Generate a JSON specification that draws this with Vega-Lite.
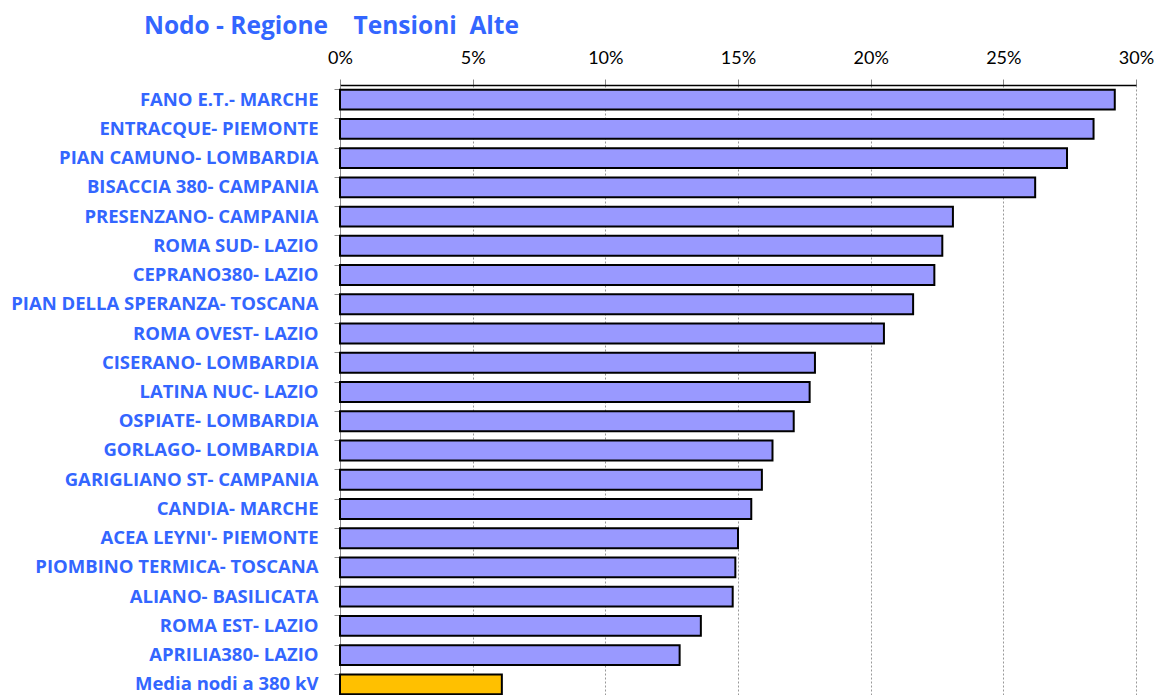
{
  "$schema": "https://vega.github.io/schema/vega-lite/v6.json",
  "autosize": {"type": "none"},
  "width": 796,
  "height": 614,
  "padding": {"left": 340, "top": 85, "right": 22, "bottom": 0},
  "background": "white",
  "title": {
    "text": "Nodo - Regione\u00a0\u00a0\u00a0\u00a0Tensioni\u00a0\u00a0Alte",
    "anchor": "start",
    "frame": "group",
    "dx": -196,
    "offset": 10,
    "font": "Open Sans",
    "fontSize": 24.5,
    "fontWeight": "bold",
    "color": "#3366FF"
  },
  "data": {
    "values": [
      {"nodo": "FANO E.T.- MARCHE", "valore": 0.292, "tipo": "nodo"},
      {"nodo": "ENTRACQUE- PIEMONTE", "valore": 0.284, "tipo": "nodo"},
      {"nodo": "PIAN CAMUNO- LOMBARDIA", "valore": 0.274, "tipo": "nodo"},
      {"nodo": "BISACCIA 380- CAMPANIA", "valore": 0.262, "tipo": "nodo"},
      {"nodo": "PRESENZANO- CAMPANIA", "valore": 0.231, "tipo": "nodo"},
      {"nodo": "ROMA SUD- LAZIO", "valore": 0.227, "tipo": "nodo"},
      {"nodo": "CEPRANO380- LAZIO", "valore": 0.224, "tipo": "nodo"},
      {"nodo": "PIAN DELLA SPERANZA- TOSCANA", "valore": 0.216, "tipo": "nodo"},
      {"nodo": "ROMA OVEST- LAZIO", "valore": 0.205, "tipo": "nodo"},
      {"nodo": "CISERANO- LOMBARDIA", "valore": 0.179, "tipo": "nodo"},
      {"nodo": "LATINA NUC- LAZIO", "valore": 0.177, "tipo": "nodo"},
      {"nodo": "OSPIATE- LOMBARDIA", "valore": 0.171, "tipo": "nodo"},
      {"nodo": "GORLAGO- LOMBARDIA", "valore": 0.163, "tipo": "nodo"},
      {"nodo": "GARIGLIANO ST- CAMPANIA", "valore": 0.159, "tipo": "nodo"},
      {"nodo": "CANDIA- MARCHE", "valore": 0.155, "tipo": "nodo"},
      {"nodo": "ACEA LEYNI'- PIEMONTE", "valore": 0.150, "tipo": "nodo"},
      {"nodo": "PIOMBINO TERMICA- TOSCANA", "valore": 0.149, "tipo": "nodo"},
      {"nodo": "ALIANO- BASILICATA", "valore": 0.148, "tipo": "nodo"},
      {"nodo": "ROMA EST- LAZIO", "valore": 0.136, "tipo": "nodo"},
      {"nodo": "APRILIA380- LAZIO", "valore": 0.128, "tipo": "nodo"},
      {"nodo": "Media nodi a 380 kV", "valore": 0.061, "tipo": "media"}
    ]
  },
  "mark": {"type": "bar", "stroke": "black", "strokeWidth": 2},
  "encoding": {
    "y": {
      "field": "nodo",
      "type": "nominal",
      "sort": null,
      "scale": {"paddingInner": 0.32, "paddingOuter": 0.16},
      "axis": {
        "title": null,
        "bandPosition": 0,
        "grid": false,
        "domain": true,
        "domainColor": "#888888",
        "tickColor": "#888888",
        "tickSize": 6,
        "labelPadding": 16,
        "labelLimit": 400,
        "labelFont": "Open Sans",
        "labelFontSize": 18.5,
        "labelFontWeight": "bold",
        "labelColor": "#3366FF"
      }
    },
    "x": {
      "field": "valore",
      "type": "quantitative",
      "scale": {"domain": [0, 0.3], "nice": false},
      "axis": {
        "title": null,
        "orient": "top",
        "format": ".0%",
        "values": [0, 0.05, 0.1, 0.15, 0.2, 0.25, 0.3],
        "labelFlush": false,
        "grid": true,
        "gridColor": "#999999",
        "gridDash": [2, 2],
        "gridWidth": 1,
        "domainColor": "black",
        "domainWidth": 1.5,
        "tickColor": "#888888",
        "tickSize": 6,
        "labelPadding": 12,
        "labelFont": "Lato",
        "labelFontSize": 18,
        "labelColor": "black"
      }
    },
    "color": {
      "field": "tipo",
      "type": "nominal",
      "scale": {"domain": ["nodo", "media"], "range": ["#9999FF", "#FFC000"]},
      "legend": null
    }
  },
  "config": {"view": {"stroke": null}}
}
